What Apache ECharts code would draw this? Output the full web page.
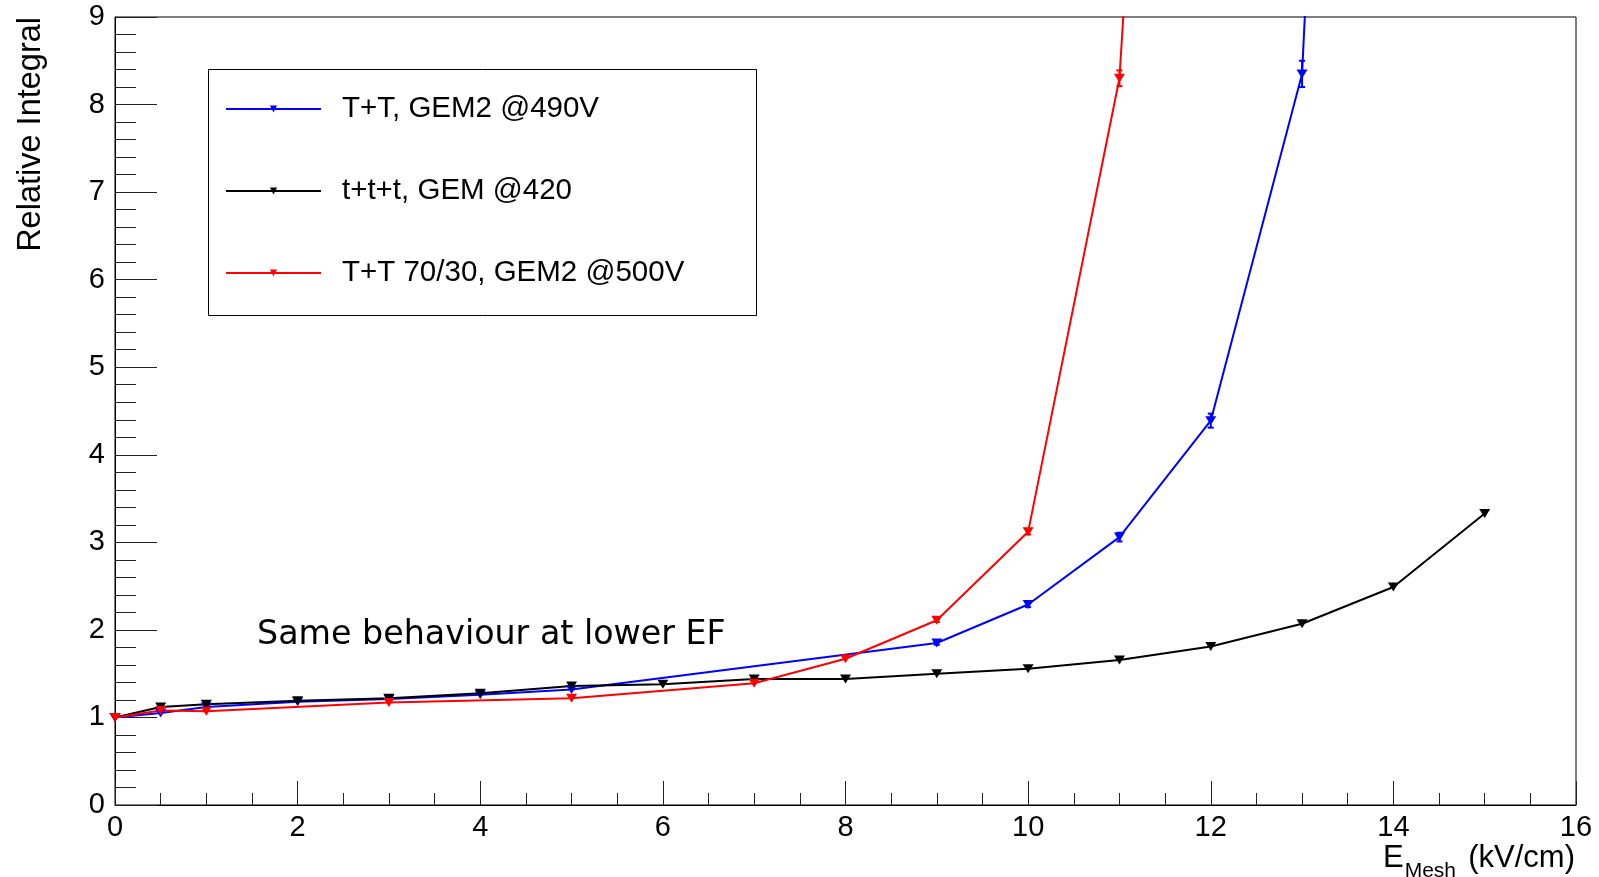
<!DOCTYPE html>
<html>
<head>
<meta charset="utf-8">
<script src="https://cdn.jsdelivr.net/npm/echarts@6/dist/echarts.min.js"></script>
<style>
html,body{margin:0;padding:0;background:#fff;}
#chart{width:1599px;height:877px;}
</style>
</head>
<body>
<div id="chart"></div>
<script>
// ---- data ----
const seriesNames = ['T+T, GEM2 @490V', 't+t+t, GEM @420', 'T+T 70/30, GEM2 @500V'];
const blueX = [0, 0.5, 1, 2, 3, 4, 5, 9, 10, 11, 12, 13, 14];
const blueY = [1.0, 1.05, 1.12, 1.18, 1.21, 1.26, 1.32, 1.85, 2.29, 3.06, 4.39, 8.35, 30];
const blueErr = [0, 0, 0, 0, 0, 0, 0, 0.02, 0.03, 0.05, 0.08, 0.15, 0.5];
const blackX = [0, 0.5, 1, 2, 3, 4, 5, 6, 7, 8, 9, 10, 11, 12, 13, 14, 15];
const blackY = [1.0, 1.12, 1.15, 1.19, 1.22, 1.275, 1.36, 1.38, 1.44, 1.44, 1.50, 1.556, 1.655, 1.81, 2.07, 2.49, 3.33];
const redX = [0, 0.5, 1, 3, 5, 7, 8, 9, 10, 11, 12];
const redY = [1.0, 1.08, 1.07, 1.17, 1.22, 1.39, 1.67, 2.11, 3.12, 8.30, 25];
const redErr = [0, 0, 0, 0, 0, 0, 0, 0.02, 0.03, 0.09, 0.4];
const xTicks = [0, 2, 4, 6, 8, 10, 12, 14, 16];
const yTicks = [0, 1, 2, 3, 4, 5, 6, 7, 8, 9];
const xTitleMain = 'E';
const xTitleSub = 'Mesh';
const xTitleUnit = ' (kV/cm)';
const yTitle = 'Relative Integral';
const annotation = 'Same behaviour at lower EF';

const FONT = '"Liberation Sans", Arial, Helvetica, sans-serif';
const chart = echarts.init(document.getElementById('chart'), null, {renderer: 'canvas'});

function pairs(xs, ys) { return xs.map((x, i) => [x, ys[i]]); }
function errData(xs, ys, es) { return xs.map((x, i) => [x, ys[i] - es[i], ys[i] + es[i]]).filter((d, i) => es[i] > 0); }

function lineSeries(name, xs, ys, color) {
  return {
    name: name, type: 'line', data: pairs(xs, ys),
    symbol: 'triangle', symbolRotate: 180, symbolSize: [11, 9],
    showAllSymbol: true,
    lineStyle: {color: color, width: 2},
    itemStyle: {color: color},
    clip: true, z: 3
  };
}
function errSeries(xs, ys, es, color) {
  return {
    type: 'custom', data: errData(xs, ys, es), clip: true, z: 4, silent: true,
    renderItem: function (params, api) {
      const lo = api.coord([api.value(0), api.value(1)]);
      const hi = api.coord([api.value(0), api.value(2)]);
      const w = 3;
      const st = {stroke: color, lineWidth: 2};
      return {type: 'group', children: [
        {type: 'line', shape: {x1: lo[0], y1: lo[1], x2: hi[0], y2: hi[1]}, style: st},
        {type: 'line', shape: {x1: lo[0] - w, y1: lo[1], x2: lo[0] + w, y2: lo[1]}, style: st},
        {type: 'line', shape: {x1: hi[0] - w, y1: hi[1], x2: hi[0] + w, y2: hi[1]}, style: st}
      ]};
    }
  };
}

const option = {
  animation: false,
  backgroundColor: '#fff',
  textStyle: {fontFamily: FONT},
  grid: {left: 115, right: 23, top: 17, bottom: 72, show: true, borderColor: '#000', borderWidth: 1, containLabel: false},
  xAxis: {
    type: 'value', min: xTicks[0], max: xTicks[xTicks.length - 1], interval: 2,
    axisLine: {lineStyle: {color: '#000', width: 1}},
    axisTick: {inside: true, length: 24, lineStyle: {color: '#222', width: 1}},
    minorTick: {show: true, splitNumber: 4, length: 12, lineStyle: {color: '#222', width: 1}},
    splitLine: {show: false},
    axisLabel: {fontSize: 29, color: '#000', margin: 8, fontFamily: FONT}
  },
  yAxis: {
    type: 'value', min: yTicks[0], max: yTicks[yTicks.length - 1], interval: 1,
    axisLine: {show: true, lineStyle: {color: '#000', width: 1}},
    axisTick: {show: true, inside: true, length: 42, lineStyle: {color: '#222', width: 1}},
    minorTick: {show: true, splitNumber: 5, length: 21, lineStyle: {color: '#222', width: 1}},
    splitLine: {show: false},
    axisLabel: {fontSize: 29, color: '#000', margin: 10, fontFamily: FONT}
  },
  legend: {
    data: seriesNames,
    orient: 'vertical', left: 225, top: 94, padding: 0,
    itemWidth: 95, itemHeight: 9, itemGap: 52,
    textStyle: {fontSize: 29.5, color: '#000', lineHeight: 30, padding: [0, 0, 0, 16], fontFamily: FONT},
    selectedMode: false
  },
  series: [
    lineSeries(seriesNames[0], blueX, blueY, '#0000ff'),
    errSeries(blueX, blueY, blueErr, '#0000ff'),
    lineSeries(seriesNames[1], blackX, blackY, '#000000'),
    lineSeries(seriesNames[2], redX, redY, '#ff0000'),
    errSeries(redX, redY, redErr, '#ff0000')
  ],
  graphic: [
    {type: 'rect', left: 206, top: 67, shape: {width: 548, height: 246}, style: {fill: 'none', stroke: '#000', lineWidth: 1}, z: 1},
    {type: 'text', x: 31, y: 17, rotation: Math.PI / 2,
     style: {text: yTitle, fontSize: 32.5, fill: '#000', fontFamily: FONT, align: 'right', verticalAlign: 'middle'}},
    {type: 'text', x: 1575, y: 858,
     style: {text: xTitleUnit, fontSize: 31, fill: '#000', fontFamily: FONT, align: 'right', verticalAlign: 'middle'}},
    {type: 'text', x: 1456, y: 871,
     style: {text: xTitleSub, fontSize: 21, fill: '#000', fontFamily: FONT, align: 'right', verticalAlign: 'middle'}},
    {type: 'text', x: 1383, y: 858,
     style: {text: xTitleMain, fontSize: 31, fill: '#000', fontFamily: FONT, align: 'left', verticalAlign: 'middle'}},
    {type: 'text', x: 257, y: 635,
     style: {text: annotation, fontSize: 33.3, fill: '#000', fontFamily: '"DejaVu Sans", "Noto Sans", sans-serif', align: 'left', verticalAlign: 'middle'}}
  ]
};
chart.setOption(option);
</script>
</body>
</html>
